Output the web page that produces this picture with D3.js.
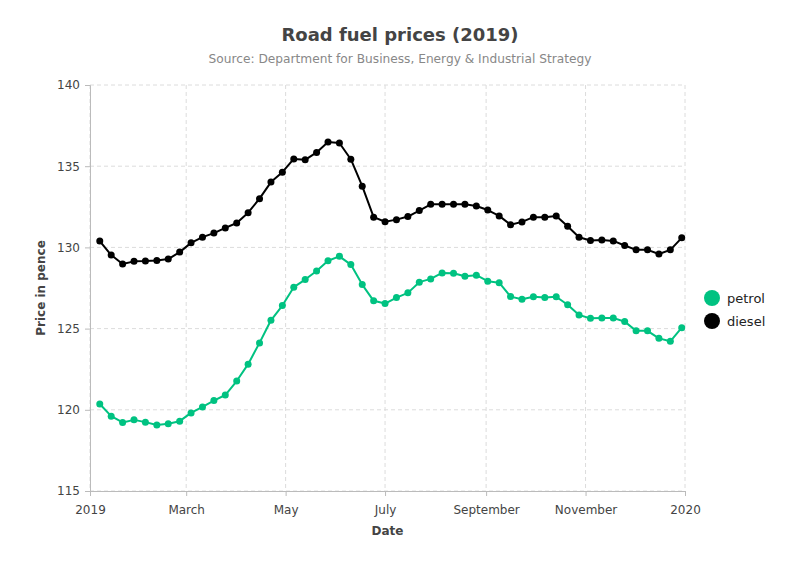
<!DOCTYPE html>
<html>
<head>
<meta charset="utf-8">
<script src="https://cdn.jsdelivr.net/npm/d3@7"></script>
<style>
  body { margin: 0; background: #fff; }
  svg { font-family: "DejaVu Sans", Verdana, sans-serif; }
</style>
</head>
<body>
<svg id="chart"></svg>
<script>
// weekly prices, Mondays 7 Jan 2019 .. 30 Dec 2019
const firstWeek = "2019-01-07";
const petrol = [
  120.36, 119.61, 119.22, 119.38, 119.24, 119.06, 119.14, 119.30, 119.81, 120.18,
  120.57, 120.91, 121.77, 122.81, 124.12, 125.51, 126.42, 127.55, 128.02, 128.55,
  129.18, 129.45, 128.94, 127.71, 126.71, 126.54, 126.91, 127.20, 127.86, 128.06,
  128.43, 128.41, 128.22, 128.29, 127.92, 127.83, 126.97, 126.81, 126.96, 126.91,
  126.96, 126.47, 125.84, 125.63, 125.65, 125.65, 125.43, 124.87, 124.86, 124.40,
  124.22, 125.06
];
const diesel = [
  130.39, 129.53, 128.98, 129.14, 129.16, 129.20, 129.28, 129.71, 130.28, 130.63,
  130.88, 131.20, 131.50, 132.14, 133.00, 134.02, 134.63, 135.45, 135.39, 135.85,
  136.49, 136.43, 135.43, 133.77, 131.86, 131.58, 131.71, 131.90, 132.27, 132.65,
  132.65, 132.65, 132.65, 132.55, 132.30, 131.94, 131.39, 131.57, 131.86, 131.86,
  131.94, 131.30, 130.63, 130.43, 130.45, 130.40, 130.12, 129.85, 129.85, 129.59,
  129.85, 130.59
];
const seriesNames = ["petrol", "diesel"];
const seriesColors = ["#00c281", "#000000"];
const yTicks = [115, 120, 125, 130, 135, 140];

const width = 800;
const height = 570;
const margin = { top: 85, right: 115, bottom: 79, left: 90 };

const start = d3.timeParse("%Y-%m-%d")(firstWeek);
const dates = petrol.map((d, i) => d3.timeWeek.offset(start, i));
const series = [petrol, diesel].map((values, k) => ({
  name: seriesNames[k],
  color: seriesColors[k],
  points: values.map((v, i) => ({ date: dates[i], value: v }))
}));

const svg = d3.select("#chart")
  .attr("width", width)
  .attr("height", height);

const x = d3.scaleTime()
  .domain([new Date(2019, 0, 1), new Date(2020, 0, 1)])
  .range([margin.left, width - margin.right]);

const y = d3.scaleLinear()
  .domain([115, 140])
  .range([height - margin.bottom, margin.top]);

const xTicks = x.ticks(d3.timeMonth.every(2));

// grid
svg.append("g")
  .selectAll("line")
  .data(xTicks)
  .join("line")
  .attr("x1", d => x(d)).attr("x2", d => x(d))
  .attr("y1", margin.top).attr("y2", height - margin.bottom)
  .attr("stroke", "#dcdcdc")
  .attr("stroke-dasharray", "4,3");

svg.append("g")
  .selectAll("line")
  .data(yTicks)
  .join("line")
  .attr("x1", margin.left).attr("x2", width - margin.right)
  .attr("y1", d => y(d)).attr("y2", d => y(d))
  .attr("stroke", "#dcdcdc")
  .attr("stroke-dasharray", "4,3");

// axes
const xAxis = svg.append("g")
  .attr("transform", `translate(0,${height - margin.bottom})`)
  .call(d3.axisBottom(x).tickValues(xTicks).tickSize(5).tickPadding(9));

const yAxis = svg.append("g")
  .attr("transform", `translate(${margin.left},0)`)
  .call(d3.axisLeft(y).tickValues(yTicks).tickSize(5).tickPadding(5));

[xAxis, yAxis].forEach(a => {
  a.select(".domain").attr("stroke", "#bbb");
  a.selectAll(".tick line").attr("stroke", "#bbb");
  a.selectAll("text")
    .attr("fill", "#444")
    .style("font-size", "12px")
    .style("font-family", "DejaVu Sans, Verdana, sans-serif");
});

// lines and markers
const line = d3.line()
  .x(d => x(d.date))
  .y(d => y(d.value));

series.forEach(s => {
  svg.append("path")
    .datum(s.points)
    .attr("fill", "none")
    .attr("stroke", s.color)
    .attr("stroke-width", 2)
    .attr("stroke-linejoin", "round")
    .attr("d", line);

  svg.append("g")
    .selectAll("circle")
    .data(s.points)
    .join("circle")
    .attr("cx", d => x(d.date))
    .attr("cy", d => y(d.value))
    .attr("r", 3.5)
    .attr("fill", s.color);
});

// titles
svg.append("text")
  .attr("x", width / 2)
  .attr("y", 41)
  .attr("text-anchor", "middle")
  .attr("fill", "#444")
  .style("font-size", "18px")
  .style("font-weight", "bold")
  .text("Road fuel prices (2019)");

svg.append("text")
  .attr("x", width / 2)
  .attr("y", 63)
  .attr("text-anchor", "middle")
  .attr("fill", "#888")
  .style("font-size", "12.2px")
  .text("Source: Department for Business, Energy & Industrial Strategy");

svg.append("text")
  .attr("x", (margin.left + width - margin.right) / 2)
  .attr("y", 535)
  .attr("text-anchor", "middle")
  .attr("fill", "#444")
  .style("font-size", "12px")
  .style("font-weight", "bold")
  .text("Date");

svg.append("text")
  .attr("transform", `translate(45,${(margin.top + height - margin.bottom) / 2}) rotate(-90)`)
  .attr("text-anchor", "middle")
  .attr("fill", "#444")
  .style("font-size", "12px")
  .style("font-weight", "bold")
  .text("Price in pence");

// legend
const legend = svg.append("g")
  .selectAll("g")
  .data(series)
  .join("g")
  .attr("transform", (d, i) => `translate(712,${298 + i * 23})`);

legend.append("circle")
  .attr("r", 8)
  .attr("fill", d => d.color);

legend.append("text")
  .attr("x", 15)
  .attr("dy", "0.35em")
  .attr("fill", "#222")
  .style("font-size", "13px")
  .text(d => d.name);
</script>
</body>
</html>
